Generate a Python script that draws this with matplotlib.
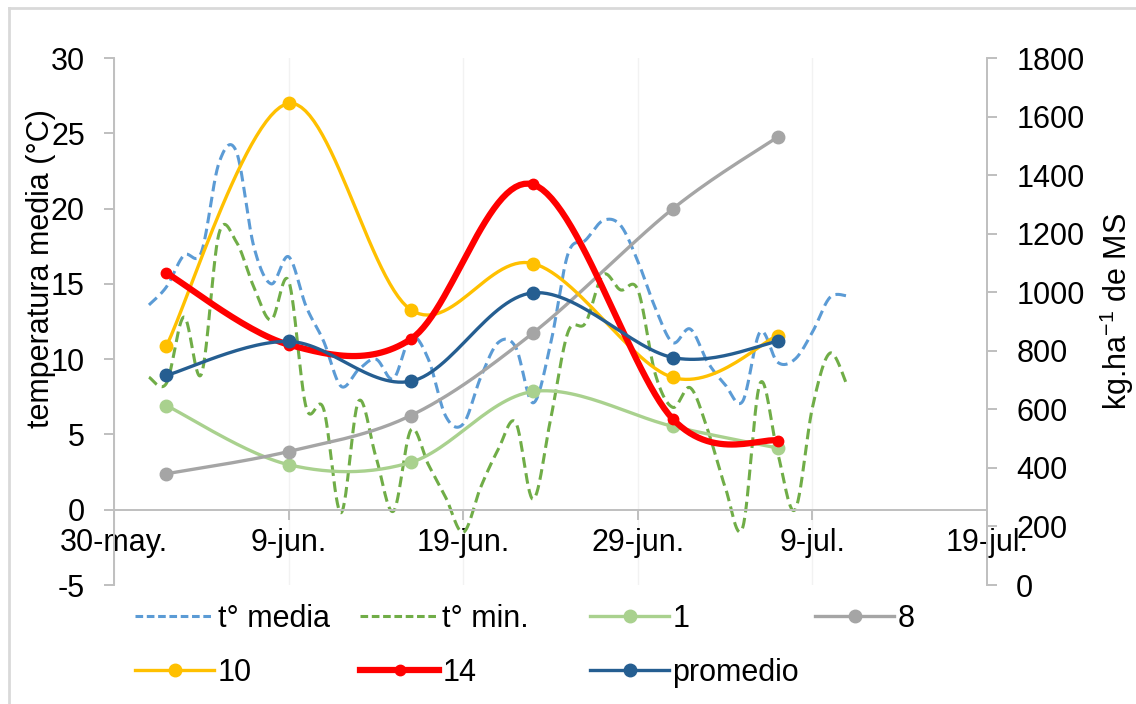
import numpy as np
import pandas as pd
import matplotlib
matplotlib.use("Agg")
import matplotlib.pyplot as plt
import matplotlib.dates as mdates
from matplotlib.lines import Line2D

plt.rcParams["font.family"] = ["Liberation Sans", "DejaVu Sans"]
plt.rcParams["mathtext.fontset"] = "custom"
plt.rcParams["mathtext.rm"] = "Liberation Sans"
plt.rcParams["mathtext.default"] = "regular"
plt.rcParams["axes.unicode_minus"] = False

# -------------------------
# datos
# -------------------------

# fechas de corte y producción (kg MS/ha) por tratamiento
fechas_corte = ["2019-06-02", "2019-06-09", "2019-06-16",
                "2019-06-23", "2019-07-01", "2019-07-07"]
prod_1 = [613, 411, 419, 661, 542, 468]
prod_8 = [380, 456, 579, 861, 1285, 1530]
prod_10 = [817, 1645, 940, 1098, 709, 852]
prod_14 = [1066, 821, 840, 1368, 567, 493]
prod_promedio = [716, 832, 696, 998, 777, 832]

# temperaturas diarias desde el 1 de junio
inicio_clima = "2019-06-01"
t_media = [13.6, 14.8, 16.9, 17.1, 23.0, 23.8, 17.5, 15.0, 16.8, 13.5,
           11.2, 8.2, 9.3, 10.0, 8.7, 11.5, 10.0, 6.2, 5.7, 8.8,
           11.1, 10.8, 7.1, 11.0, 17.0, 17.9, 19.2, 18.9, 16.5, 13.4,
           11.1, 12.0, 9.8, 8.3, 7.2, 11.8, 9.8, 10.0, 11.8, 14.1,
           14.2]
t_min = [8.8, 8.4, 12.8, 9.0, 18.3, 17.8, 14.8, 12.6, 15.2, 6.8,
         6.7, -0.2, 7.2, 3.5, -0.1, 5.3, 3.0, 0.8, -1.5, 1.5,
         4.0, 5.8, 0.7, 6.0, 11.8, 12.4, 15.6, 14.6, 14.6, 9.0,
         6.8, 8.1, 5.3, 1.5, -1.2, 8.4, 3.8, 0.0, 6.8, 10.4,
         8.2]

x_ticks = ["2019-05-30", "2019-06-09", "2019-06-19",
           "2019-06-29", "2019-07-09", "2019-07-19"]
x_labels = ["30-may.", "9-jun.", "19-jun.", "29-jun.", "9-jul.", "19-jul."]

# -------------------------
# curva suavizada (Bezier tipo Catmull-Rom)
# -------------------------

def suavizar(x, y, n=30):
    x = np.asarray(x, dtype=float)
    y = np.asarray(y, dtype=float)
    px = np.concatenate([[x[0]], x, [x[-1]]])
    py = np.concatenate([[y[0]], y, [y[-1]]])
    t = np.linspace(0, 1, n)
    xs, ys = [], []
    for i in range(len(x) - 1):
        p0x, p1x, p2x, p3x = px[i:i + 4]
        p0y, p1y, p2y, p3y = py[i:i + 4]
        c1x, c1y = p1x + (p2x - p0x) / 6, p1y + (p2y - p0y) / 6
        c2x, c2y = p2x - (p3x - p1x) / 6, p2y - (p3y - p1y) / 6
        b0 = (1 - t) ** 3
        b1 = 3 * (1 - t) ** 2 * t
        b2 = 3 * (1 - t) * t ** 2
        b3 = t ** 3
        xs.append(b0 * p1x + b1 * c1x + b2 * c2x + b3 * p2x)
        ys.append(b0 * p1y + b1 * c1y + b2 * c2y + b3 * p2y)
    return np.concatenate(xs), np.concatenate(ys)


x_corte = mdates.date2num(pd.to_datetime(fechas_corte))
x_clima = mdates.date2num(pd.date_range(inicio_clima, periods=len(t_media), freq="D"))

# -------------------------
# figura
# -------------------------

gris = "#BFBFBF"
fig = plt.figure(figsize=(11.36, 7.04), dpi=100)
ax = fig.add_axes([0.1004, 0.169, 0.7685, 0.7486])
ax2 = ax.twinx()

# líneas de cuadrícula verticales muy suaves
for d in mdates.date2num(pd.to_datetime(x_ticks)):
    ax.axvline(d, color="#F2F2F2", lw=1.0, zorder=0)

# temperaturas (eje izquierdo)
xs, ys = suavizar(x_clima, t_media)
ax.plot(xs, ys, color="#5B9BD5", lw=2.2, dashes=(3.5, 1.8), zorder=2)
xs, ys = suavizar(x_clima, t_min)
ax.plot(xs, ys, color="#70AD47", lw=2.2, dashes=(3.5, 1.8), zorder=2)

# producción (eje derecho)
series = [
    (prod_1, "#A9D18E", 2.4, 9),
    (prod_8, "#A5A5A5", 2.4, 9),
    (prod_10, "#FFC000", 2.4, 9),
    (prod_14, "#FF0000", 4.5, 7.5),
    (prod_promedio, "#255E91", 2.4, 9),
]
for vals, color, lw, ms in series:
    xs, ys = suavizar(x_corte, vals)
    ax2.plot(xs, ys, color=color, lw=lw, solid_capstyle="round")
    ax2.plot(x_corte, vals, "o", color=color, ms=ms, mec=color)

# ejes
ax.set_xlim(mdates.date2num(pd.Timestamp(x_ticks[0])),
            mdates.date2num(pd.Timestamp(x_ticks[-1])))
ax.set_ylim(-5, 30)
ax2.set_ylim(0, 1800)

ax.set_xticks(mdates.date2num(pd.to_datetime(x_ticks)))
ax.set_xticklabels(x_labels)
ax.set_yticks(np.arange(-5, 31, 5))
ax2.set_yticks(np.arange(0, 1801, 200))

for a in (ax, ax2):
    for s in a.spines.values():
        s.set_color(gris)
        s.set_linewidth(1.4)
    a.spines["top"].set_visible(False)

ax.spines["right"].set_visible(False)
ax.spines["bottom"].set_position(("data", 0))
ax2.spines["bottom"].set_visible(False)
ax2.spines["left"].set_visible(False)

ax.tick_params(axis="both", direction="out", length=7, width=1.4, color=gris,
               labelsize=22, labelcolor="black")
ax.tick_params(axis="y", pad=14)
ax.tick_params(axis="x", pad=6)
ax2.tick_params(axis="y", direction="out", length=7, width=1.4, color=gris,
                labelsize=22, labelcolor="black", pad=14)

ax.set_ylabel("temperatura media (°C)", fontsize=22)
ax.yaxis.set_label_coords(-0.066, 0.6)
ax2.set_ylabel("kg.ha$^{-1}$ de MS", fontsize=22)
ax2.yaxis.set_label_coords(1.127, 0.52)

# borde del área del gráfico
fig.add_artist(Line2D([9 / 1136, 1], [1 - 8 / 704, 1 - 8 / 704],
                      transform=fig.transFigure, color="#D9D9D9", lw=2))
fig.add_artist(Line2D([9 / 1136, 9 / 1136], [0, 1 - 8 / 704],
                      transform=fig.transFigure, color="#D9D9D9", lw=2))

# leyenda en columnas de igual ancho
def h_linea(color, lw, dashed=False, ms=0):
    if dashed:
        return Line2D([], [], color=color, lw=lw, dashes=(2.5, 1.2))
    return Line2D([], [], color=color, lw=lw, marker="o", ms=ms, mec=color)

columnas = [
    ([h_linea("#5B9BD5", 2.2, True), h_linea("#FFC000", 2.4, ms=9)], ["t° media", "10"]),
    ([h_linea("#70AD47", 2.2, True), h_linea("#FF0000", 4.5, ms=7.5)], ["t° min.", "14"]),
    ([h_linea("#A9D18E", 2.4, ms=9), h_linea("#255E91", 2.4, ms=9)], ["1", "promedio"]),
    ([h_linea("#A5A5A5", 2.4, ms=9)], ["8"]),
]
x_col = [135, 360, 590, 815]
for (hs, labs), xc in zip(columnas, x_col):
    fig.legend(hs, labs, loc="upper left", bbox_to_anchor=(xc / 1136, 1 - 604 / 704),
               frameon=False, fontsize=22, handlelength=2.6, handletextpad=0.1,
               labelspacing=0.78, borderpad=0, borderaxespad=0)

fig.savefig("out.png", dpi=100)
